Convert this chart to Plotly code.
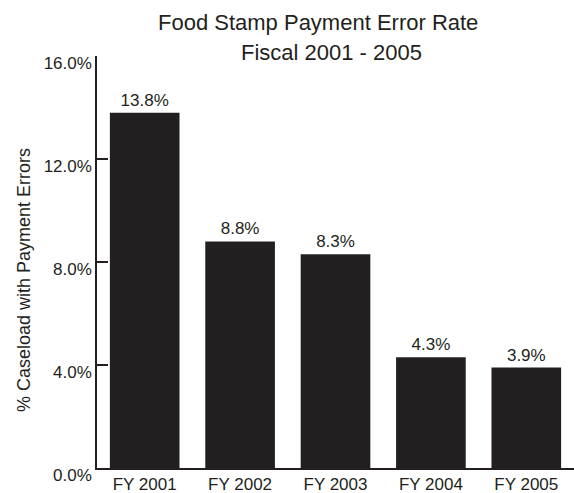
import plotly.graph_objects as go

categories = ["FY 2001", "FY 2002", "FY 2003", "FY 2004", "FY 2005"]
error_rates = [13.8, 8.8, 8.3, 4.3, 3.9]
bar_labels = ["13.8%", "8.8%", "8.3%", "4.3%", "3.9%"]
y_tick_vals = [0, 4, 8, 12, 16]
y_tick_text = ["0.0%", "4.0%", "8.0%", "12.0%", "16.0%"]
title_lines = ["Food Stamp Payment Error Rate", "Fiscal 2001 - 2005"]
y_title = "% Caseload with Payment Errors"

INK = "#231f20"
FONT = "Liberation Sans, Arial, sans-serif"

W, H = 574, 493
ML, MR, MT, MB = 97, 0, 56, 25
PW, PH = W - ML - MR, H - MT - MB


def px_x(x):
    return (x - ML) / PW


def px_y(y):
    return (H - MB - y) / PH


fig = go.Figure(
    go.Bar(
        x=categories,
        y=error_rates,
        text=bar_labels,
        textposition="outside",
        textfont=dict(size=17, color=INK, family=FONT),
        marker=dict(color=INK, line=dict(width=0)),
        cliponaxis=False,
    )
)

annotations = [
    dict(
        text=title_lines[0],
        xref="paper", yref="paper",
        x=px_x(318), y=px_y(23),
        xanchor="center", yanchor="middle",
        showarrow=False,
        font=dict(size=22, color=INK, family=FONT),
    ),
    dict(
        text=title_lines[1],
        xref="paper", yref="paper",
        x=px_x(331), y=px_y(53),
        xanchor="center", yanchor="middle",
        showarrow=False,
        font=dict(size=22, color=INK, family=FONT),
    ),
    dict(
        text=y_title,
        xref="paper", yref="paper",
        x=px_x(24), y=px_y(280),
        xanchor="center", yanchor="middle",
        textangle=-90,
        showarrow=False,
        font=dict(size=18, color=INK, family=FONT),
    ),
]

fig.update_layout(
    width=W,
    height=H,
    margin=dict(l=ML, r=MR, t=MT, b=MB, autoexpand=False),
    paper_bgcolor="white",
    plot_bgcolor="white",
    bargap=0.27,
    showlegend=False,
    font=dict(family=FONT, color=INK),
    annotations=annotations,
)

fig.update_yaxes(
    range=[0, 16],
    tickvals=y_tick_vals,
    ticktext=y_tick_text,
    ticks="inside",
    ticklen=11,
    tickwidth=1.5,
    tickcolor=INK,
    showline=True,
    linecolor=INK,
    linewidth=1.5,
    showgrid=False,
    zeroline=False,
    ticklabelshift=7,
    ticklabelstandoff=0,
    tickfont=dict(size=17, color=INK, family=FONT),
)

fig.update_xaxes(
    showline=True,
    linecolor=INK,
    linewidth=1.5,
    ticks="",
    showgrid=False,
    tickfont=dict(size=17, color=INK, family=FONT),
)

fig.write_html(
    "out.html",
    config={"displayModeBar": False},
    post_script="document.body.style.margin='0';document.body.style.padding='0';",
)
